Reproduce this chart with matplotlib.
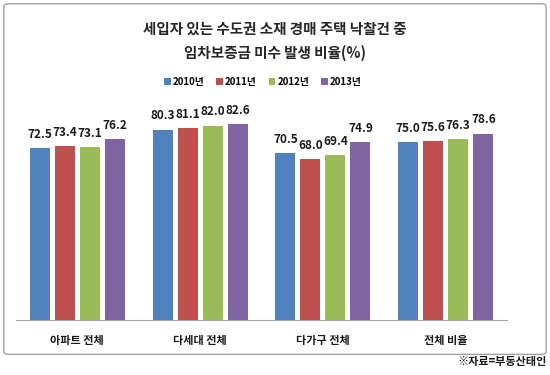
import matplotlib.pyplot as plt
import numpy as np
from matplotlib.patches import FancyBboxPatch

plt.rcParams['font.family'] = ['Noto Sans CJK KR', 'DejaVu Sans']

categories = ['아파트 전체', '다세대 전체', '다가구 전체', '전체 비율']
years = ['2010년', '2011년', '2012년', '2013년']
values = [
    [72.5, 80.3, 70.5, 75.0],
    [73.4, 81.1, 68.0, 75.6],
    [73.1, 82.0, 69.4, 76.3],
    [76.2, 82.6, 74.9, 78.6],
]
colors = ['#4F81BD', '#C0504D', '#9BBB59', '#8064A2']

fig = plt.figure(figsize=(5.5, 3.75), dpi=100)
ax = fig.add_axes([0.029, 0.147, 0.893, 0.632])

# chart frame
frame = FancyBboxPatch((0.007, 0.055), 0.986, 0.935, boxstyle='round,pad=0,rounding_size=0.008',
                       transform=fig.transFigure, fill=False, edgecolor='#A0A0A0', linewidth=1.0)
fig.patches.append(frame)

x = np.arange(len(categories))
w = 0.163
step = 0.204
for i, (yr, vals) in enumerate(zip(years, values)):
    pos = x + (i - 1.5) * step
    bars = ax.bar(pos, vals, w, color=colors[i], label=yr)
    for b, v in zip(bars, vals):
        ax.text(b.get_x() + b.get_width() / 2, v + 3.0, f'{v:.1f}', ha='center', va='bottom',
                fontsize=8.5, fontweight='bold', color='#1a1a1a')

ax.set_xlim(-0.5, 3.5)
ax.set_ylim(0, 100)
ax.set_xticks(x)
ax.set_xticklabels(categories, fontsize=8, fontweight='bold', color='#1a1a1a')
ax.tick_params(axis='x', length=0, pad=10)
ax.set_yticks([])
for s in ['top', 'left', 'right']:
    ax.spines[s].set_visible(False)
ax.spines['bottom'].set_color('#A6A6A6')

fig.text(0.5, 0.925, '세입자 있는 수도권 소재 경매 주택 낙찰건 중', ha='center', va='center',
         fontsize=10.5, fontweight='bold', color='#262626')
fig.text(0.5, 0.858, '임차보증금 미수 발생 비율(%)', ha='center', va='center',
         fontsize=10.5, fontweight='bold', color='#262626')

leg = fig.legend(loc='center', bbox_to_anchor=(0.478, 0.782), ncol=4, frameon=False,
                 prop={'size': 7, 'weight': 'bold'}, handlelength=0.7, handleheight=0.7,
                 handletextpad=0.2, columnspacing=1.2)

fig.text(0.994, 0.02, '※자료=부동산태인', ha='right', va='bottom', fontsize=8,
         fontweight='bold', color='#1a1a1a')

fig.savefig('out.png', dpi=100)
